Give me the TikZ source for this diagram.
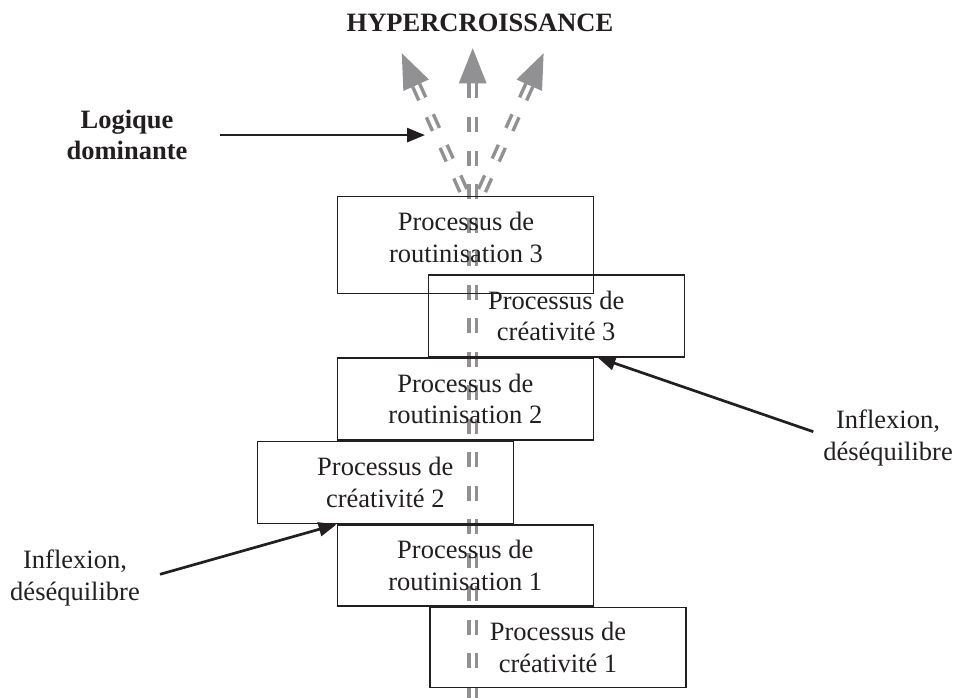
\documentclass[tikz,border=0pt]{standalone}
\usepackage{fontspec}
\setmainfont{Liberation Serif}
\usetikzlibrary{arrows.meta,calc}
\definecolor{ink}{RGB}{35,31,32}
\definecolor{dgray}{RGB}{145,145,147}
\begin{document}
\begin{tikzpicture}[x=1pt,y=-1pt,
  txt/.style={font=\fontsize{26.5}{31.5}\selectfont},
  btxt/.style={font=\bfseries\fontsize{26.5}{31.5}\selectfont},
  box/.style={draw=ink, line width=1.3pt, minimum width=256pt, minimum height=82pt,
    inner sep=0pt, align=center, text=ink, txt},
  lbl/.style={align=center, text=ink, inner sep=3pt},
  arr/.style={draw=ink, line width=2.7pt, -{Triangle[length=18pt,width=14pt]}},
  dline/.style={draw=dgray, line width=3.5pt, double=white, double distance=4pt,
    dash pattern=on 15pt off 18.5pt},
  head/.style={fill=dgray},
]
\useasboundingbox (0,0) rectangle (955,698);

% dashed growth line
\coordinate (tipC) at (472.7,48.3);
\coordinate (tipL) at (401.8,53.3);
\coordinate (tipR) at (543.6,53.3);
\coordinate (jL) at (465.4,195);
\coordinate (jR) at (480,195);
\coordinate (baseC) at (472.7,83.5);
\coordinate (bot) at (472.7,702);
\path ($(tipL)!35pt!(jL)$) coordinate (baseL);
\path ($(tipR)!35pt!(jR)$) coordinate (baseR);

\draw[dline] (baseL) -- (jL);
\draw[dline] (baseR) -- (jR);
\draw[dline] (baseC) -- (bot);
\fill[head] (tipC) -- ($(baseC)!14pt!90:(tipC)$) -- ($(baseC)!14pt!-90:(tipC)$) -- cycle;
\fill[head] (tipL) -- ($(baseL)!14pt!90:(tipL)$) -- ($(baseL)!14pt!-90:(tipL)$) -- cycle;
\fill[head] (tipR) -- ($(baseR)!14pt!90:(tipR)$) -- ($(baseR)!14pt!-90:(tipR)$) -- cycle;

% boxes
\node[box, minimum height=96.6pt] (r3) at (465.4,245) {};
\node[lbl, txt] (r3t) at (466,237.4) {Processus de\\routinisation 3};
\node[box] (c3) at (556.2,315.9) {Processus de\\créativité 3};
\node[box] (r2) at (465.4,399) {Processus de\\routinisation 2};
\node[box] (c2) at (385.3,482.5) {Processus de\\créativité 2};
\node[box, minimum height=81pt] (r1) at (465.3,565.5) {Processus de\\routinisation 1};
\node[box, minimum height=80pt] (c1) at (558,647.5) {Processus de\\créativité 1};

% labels
\node[lbl, btxt] (hyper) at (480,23.2) {HYPERCROISSANCE};
\node[lbl, btxt] (logique) at (127,135.1) {Logique\\dominante};
\node[lbl, txt] (infR) at (888,438) {Inflexion,\\déséquilibre};
\node[lbl, txt] (infL) at (75,578) {Inflexion,\\déséquilibre};

% arrows
\coordinate (ldtip) at (425,135.1);
\coordinate (rs) at (813.3,431.7);
\coordinate (ls) at (160,574.3);
\draw[arr, shorten <=29pt] (logique.east) -- (ldtip);
\draw[arr] (rs) -- ([xshift=3.4pt]r2.north east);
\draw[arr] (ls) -- (r1.north west);
\end{tikzpicture}
\end{document}
